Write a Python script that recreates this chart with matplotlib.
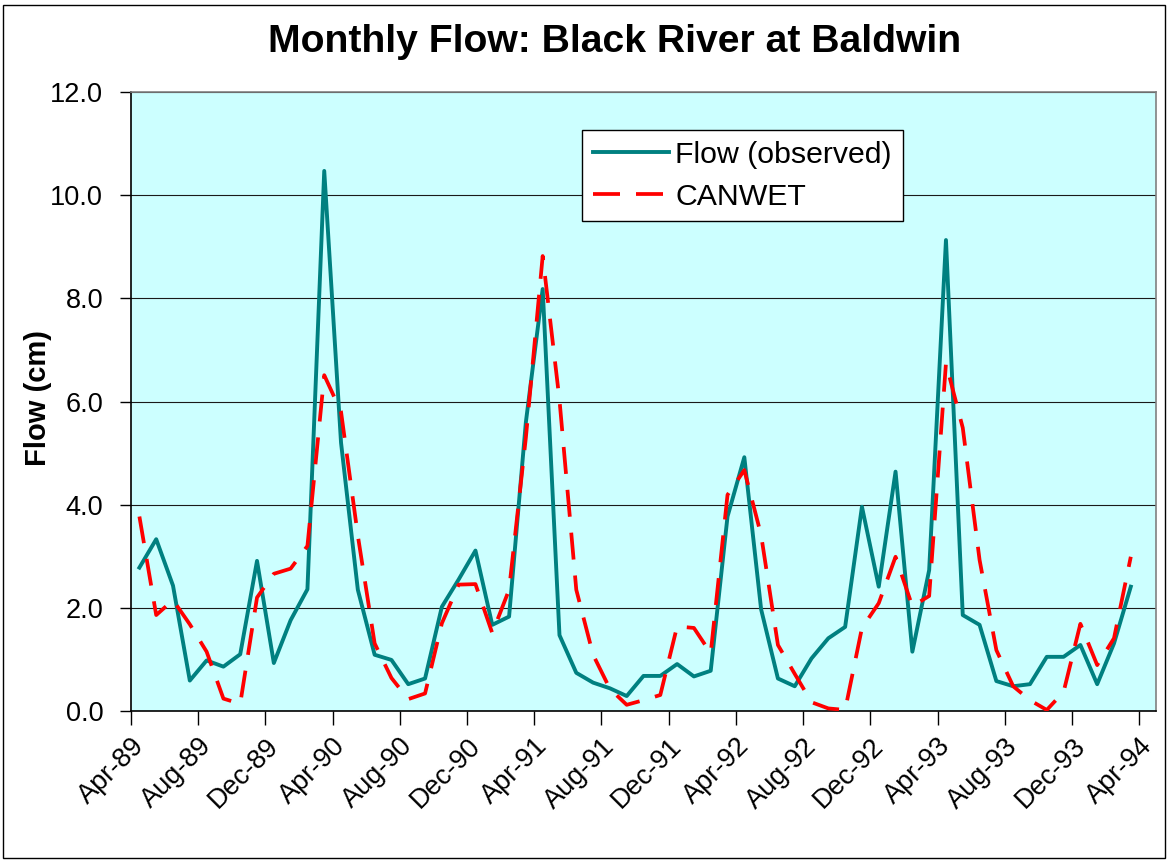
import matplotlib
matplotlib.use("Agg")
import matplotlib.pyplot as plt
from matplotlib.patches import Rectangle
import numpy as np
import pandas as pd

plt.rcParams['font.family'] = ['Liberation Sans', 'DejaVu Sans']

# Monthly categories, Apr-89 through Apr-94
months = pd.date_range("1989-04-01", "1994-04-01", freq="MS")
month_labels = [m.strftime("%b-%y") for m in months]

# Observed monthly flow (cm), Apr-89 .. Mar-94
flow_observed = [
    2.78, 3.33, 2.43, 0.59, 0.98, 0.86, 1.10, 2.91, 0.93, 1.76, 2.36, 10.47,
    5.20, 2.35, 1.09, 0.99, 0.52, 0.63, 2.02, 2.55, 3.11, 1.67, 1.83, 5.60,
    8.18, 1.47, 0.74, 0.55, 0.44, 0.29, 0.68, 0.68, 0.91, 0.67, 0.78, 3.77,
    4.92, 1.97, 0.63, 0.48, 1.02, 1.41, 1.63, 3.96, 2.41, 4.64, 1.15, 2.73,
    9.13, 1.86, 1.67, 0.58, 0.48, 0.52, 1.05, 1.05, 1.28, 0.52, 1.31, 2.41,
]

# CANWET simulated monthly flow (cm), Apr-89 .. Mar-94
flow_canwet = [
    3.77, 1.86, 2.15, 1.68, 1.15, 0.24, 0.14, 2.20, 2.66, 2.76, 3.20, 6.51,
    5.80, 3.40, 1.31, 0.64, 0.23, 0.34, 1.70, 2.45, 2.46, 1.51, 2.35, 5.30,
    8.82, 6.03, 2.35, 1.09, 0.43, 0.12, 0.21, 0.31, 1.64, 1.61, 1.12, 4.19,
    4.67, 3.41, 1.28, 0.72, 0.17, 0.05, 0.02, 1.61, 2.09, 2.99, 2.03, 2.23,
    6.74, 5.49, 2.93, 1.18, 0.48, 0.21, 0.02, 0.37, 1.69, 0.89, 1.41, 2.99,
]

W, H = 1167, 860
fig = plt.figure(figsize=(W / 100, H / 100), dpi=100)
fig.patch.set_facecolor("white")

# chart-area border
fig.add_artist(Rectangle((2.5 / W, 2.5 / H), (W - 5) / W, (H - 7) / H,
                         transform=fig.transFigure, fill=False,
                         edgecolor="black", linewidth=1.0))

left, right, top, bottom = 131, 1156, 92, 711
ax = fig.add_axes([left / W, 1 - bottom / H, (right - left) / W, (bottom - top) / H])
ax.set_facecolor("#CCFFFF")

x = np.arange(len(flow_observed))
ax.plot(x, flow_observed, color="#008080", lw=2.8, label="Flow (observed)",
        solid_joinstyle="round", zorder=3)
lw_red = 2.7
lw_px = lw_red * 100 / 72
ax.plot(x, flow_canwet, color="#FF0000", lw=lw_red, label="CANWET",
        linestyle=(0, (27 / lw_px, 16 / lw_px)), zorder=4)

n_cat = len(month_labels)
ax.set_xlim(-0.5, n_cat - 0.5)
ax.set_ylim(0, 12)

tick_pos = np.arange(-0.5, n_cat - 1, 4)
ax.set_xticks(tick_pos)
ax.set_xticklabels(month_labels[::4], rotation=45, ha="right",
                   rotation_mode="anchor", fontsize=19.5)
yt = np.arange(0, 12.1, 2)
ax.set_yticks(yt)
ax.set_yticklabels([f"{v:.1f}" for v in yt], fontsize=19.5)

ax.tick_params(axis="x", direction="out", length=10, width=1, pad=6, color="black")
ax.tick_params(axis="y", direction="out", length=8, width=1, pad=12, color="black")

ax.grid(axis="y", color="#1a1a1a", lw=0.8, zorder=1)
ax.set_axisbelow(True)

for s in ["top", "right"]:
    ax.spines[s].set_color("#808080")
    ax.spines[s].set_linewidth(1.2)
for s in ["left", "bottom"]:
    ax.spines[s].set_color("black")
    ax.spines[s].set_linewidth(1.2)

leg = ax.legend(loc="upper left",
                bbox_to_anchor=((582 - left) / (right - left), (bottom - 130) / (bottom - top)),
                borderaxespad=0, fontsize=21.8, frameon=True, fancybox=False,
                framealpha=1, edgecolor="black", handlelength=2.5,
                handletextpad=0.22, borderpad=0.36, labelspacing=0.45)
leg.get_frame().set_linewidth(1.0)

fig.text(615 / W, 1 - 42 / H, "Monthly Flow: Black River at Baldwin",
         ha="center", va="center", fontsize=28.2, fontweight="bold")
fig.text(38 / W, 1 - 398 / H, "Flow (cm)", rotation=90, ha="center",
         va="center", fontsize=21, fontweight="bold")

fig.savefig("out.png", dpi=100)
